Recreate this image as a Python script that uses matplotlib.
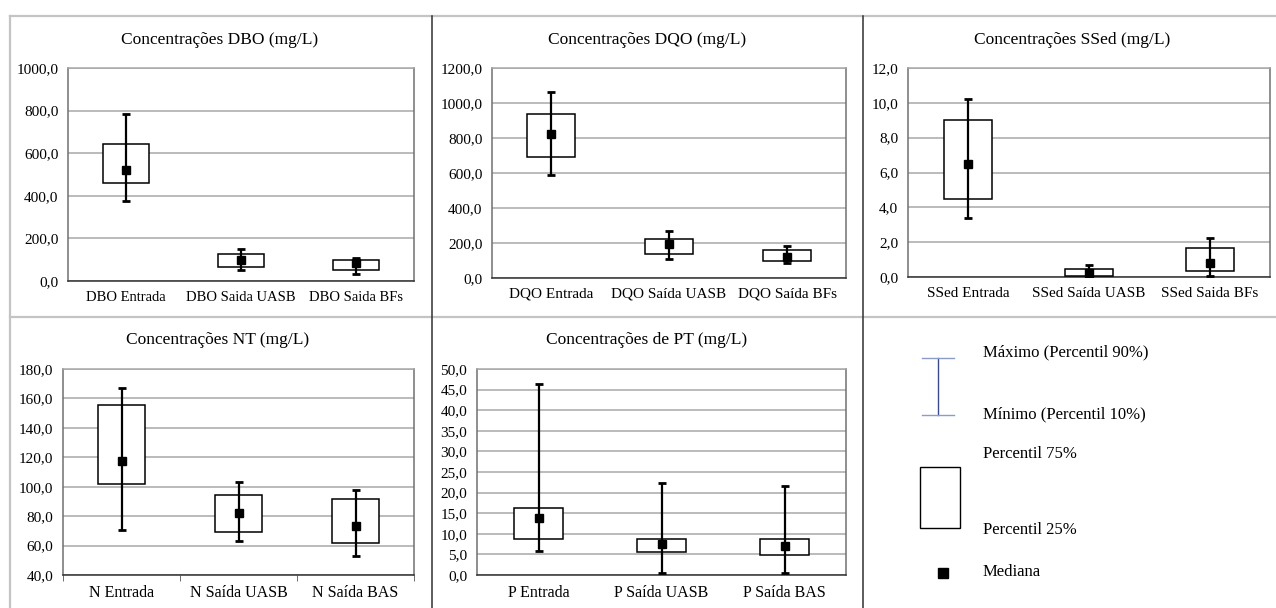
import matplotlib.pyplot as plt
from matplotlib.lines import Line2D
from matplotlib.patches import Rectangle
from matplotlib.ticker import FuncFormatter, MultipleLocator

plt.rcParams['font.family'] = ['Liberation Serif', 'DejaVu Serif']

# Percentis (p10, p25, mediana, p75, p90)
dbo_labels = ['DBO Entrada', 'DBO Saida UASB', 'DBO Saida BFs']
dbo_p10 = [375, 50, 33]
dbo_p25 = [461, 67, 53]
dbo_med = [520, 97, 83]
dbo_p75 = [641, 127, 97]
dbo_p90 = [785, 152, 110]

dqo_labels = ['DQO Entrada', 'DQO Saída UASB', 'DQO Saída BFs']
dqo_p10 = [590, 107, 84]
dqo_p25 = [690, 136, 99]
dqo_med = [822, 197, 122]
dqo_p75 = [938, 224, 159]
dqo_p90 = [1064, 269, 185]

ssed_labels = ['SSed Entrada', 'SSed Saída UASB', 'SSed Saida BFs']
ssed_p10 = [3.4, 0.05, 0.08]
ssed_p25 = [4.5, 0.06, 0.33]
ssed_med = [6.5, 0.25, 0.8]
ssed_p75 = [9.0, 0.44, 1.69]
ssed_p90 = [10.2, 0.69, 2.26]

nt_labels = ['N Entrada', 'N Saída UASB', 'N Saída BAS']
nt_p10 = [70.6, 63.4, 52.9]
nt_p25 = [101.9, 69.0, 61.8]
nt_med = [117.8, 82.0, 73.4]
nt_p75 = [155.3, 94.2, 91.5]
nt_p90 = [167.3, 103.1, 97.9]

pt_labels = ['P Entrada', 'P Saída UASB', 'P Saída BAS']
pt_p10 = [5.9, 0.6, 0.6]
pt_p25 = [8.7, 5.7, 4.9]
pt_med = [13.9, 7.5, 7.1]
pt_p75 = [16.2, 8.8, 8.7]
pt_p90 = [46.4, 22.3, 21.5]

W, H = 1276, 608
fig = plt.figure(figsize=(W / 100, H / 100), dpi=100)


def px_axes(l, t, r, b):
    return fig.add_axes([l / W, 1 - b / H, (r - l) / W, (b - t) / H])


def fmt(v, pos):
    return f'{v:.1f}'.replace('.', ',')


def box_panel(ax, title, title_y, labels, p10, p25, med, p75, p90,
              ymin, ymax, step, xfs=11, bound_ticks=False):
    x = list(range(len(labels)))
    ax.bar(x, [b - a for a, b in zip(p25, p75)], bottom=p25, width=0.4,
           color='white', edgecolor='black', linewidth=1.1, zorder=3)
    ax.errorbar(x, med, yerr=[[m - a for a, m in zip(p10, med)],
                              [b - m for m, b in zip(med, p90)]],
                fmt='s', color='black', ms=6, elinewidth=1.6,
                capsize=3, capthick=2, zorder=4)
    ax.set_xlim(-0.5, len(labels) - 0.5)
    ax.set_ylim(ymin, ymax)
    ax.yaxis.set_major_locator(MultipleLocator(step))
    ax.yaxis.set_major_formatter(FuncFormatter(fmt))
    ax.set_xticks(x)
    ax.set_xticklabels(labels, fontsize=xfs)
    ax.tick_params(axis='x', length=0, pad=7)
    ax.tick_params(axis='y', length=0, pad=7, labelsize=11)
    if bound_ticks:
        ax.set_xticks([i - 0.5 for i in range(len(labels) + 1)], minor=True)
        ax.tick_params(axis='x', which='minor', length=4, color='#555555')
    ax.grid(axis='y', color='#a8a8a8', linewidth=1.1, zorder=0)
    ax.set_axisbelow(True)
    ax.spines['top'].set_color('#a8a8a8')
    ax.spines['right'].set_color('#707070')
    ax.spines['left'].set_color('#707070')
    ax.spines['bottom'].set_color('#303030')
    for s in ax.spines.values():
        s.set_linewidth(1.1)
    l, b, w, h = ax.get_position().bounds
    fig.text(title_x[ax], 1 - title_y / H, title, ha='center', va='center',
             fontsize=12.5)


ax1 = px_axes(68, 68, 414, 281)
ax2 = px_axes(492, 68, 846, 278)
ax3 = px_axes(908, 68, 1270, 277)
ax4 = px_axes(63, 369, 414, 575)
ax5 = px_axes(477, 369, 846, 575)
title_x = {ax1: 220 / W, ax2: 647 / W, ax3: 1072 / W,
           ax4: 218 / W, ax5: 647 / W}

box_panel(ax1, 'Concentrações DBO (mg/L)', 40, dbo_labels, dbo_p10, dbo_p25,
          dbo_med, dbo_p75, dbo_p90, 0, 1000, 200, xfs=10.5)
box_panel(ax2, 'Concentrações DQO (mg/L)', 40, dqo_labels, dqo_p10, dqo_p25,
          dqo_med, dqo_p75, dqo_p90, 0, 1200, 200, xfs=11)
box_panel(ax3, 'Concentrações SSed (mg/L)', 40, ssed_labels, ssed_p10,
          ssed_p25, ssed_med, ssed_p75, ssed_p90, 0, 12, 2, xfs=11)
box_panel(ax4, 'Concentrações NT (mg/L)', 340, nt_labels, nt_p10, nt_p25,
          nt_med, nt_p75, nt_p90, 40, 180, 20, xfs=11.5, bound_ticks=True)
box_panel(ax5, 'Concentrações de PT (mg/L)', 340, pt_labels, pt_p10, pt_p25,
          pt_med, pt_p75, pt_p90, 0, 50, 5, xfs=11.5)


# linhas de separação dos painéis
def fig_line(x0, y0, x1, y1, color, lw):
    fig.add_artist(Line2D([x0 / W, x1 / W], [1 - y0 / H, 1 - y1 / H],
                          color=color, linewidth=lw))


fig_line(9.5, 15.7, W, 15.7, '#c4c4c4', 1.6)
fig_line(9.5, 15.7, 9.5, H, '#c4c4c4', 1.6)
fig_line(9.5, 316.7, W, 316.7, '#c4c4c4', 1.6)
fig_line(431.7, 15.7, 431.7, H, '#303030', 1.1)
fig_line(862.7, 15.7, 862.7, H, '#303030', 1.1)

# painel de legenda
lg = px_axes(863, 317, W, H)
lg.set_xlim(863, W)
lg.set_ylim(H, 317)
lg.axis('off')
lg.plot([938, 938], [358, 415], color='#3a4a8c', lw=1)
lg.plot([922, 954], [358, 358], color='#8c9cc4', lw=1)
lg.plot([922, 954], [415, 415], color='#8c9cc4', lw=1)
lg.add_patch(Rectangle((920, 467), 40, 61, fill=False, edgecolor='black',
                       lw=1))
lg.plot([943], [573], 's', color='black', ms=7)
for ty, txt in [(352, 'Máximo (Percentil 90%)'),
                (414, 'Mínimo (Percentil 10%)'),
                (454, 'Percentil 75%'),
                (530, 'Percentil 25%'),
                (572, 'Mediana')]:
    lg.text(983, ty, txt, ha='left', va='center', fontsize=12)

fig.savefig('out.png', dpi=100)
